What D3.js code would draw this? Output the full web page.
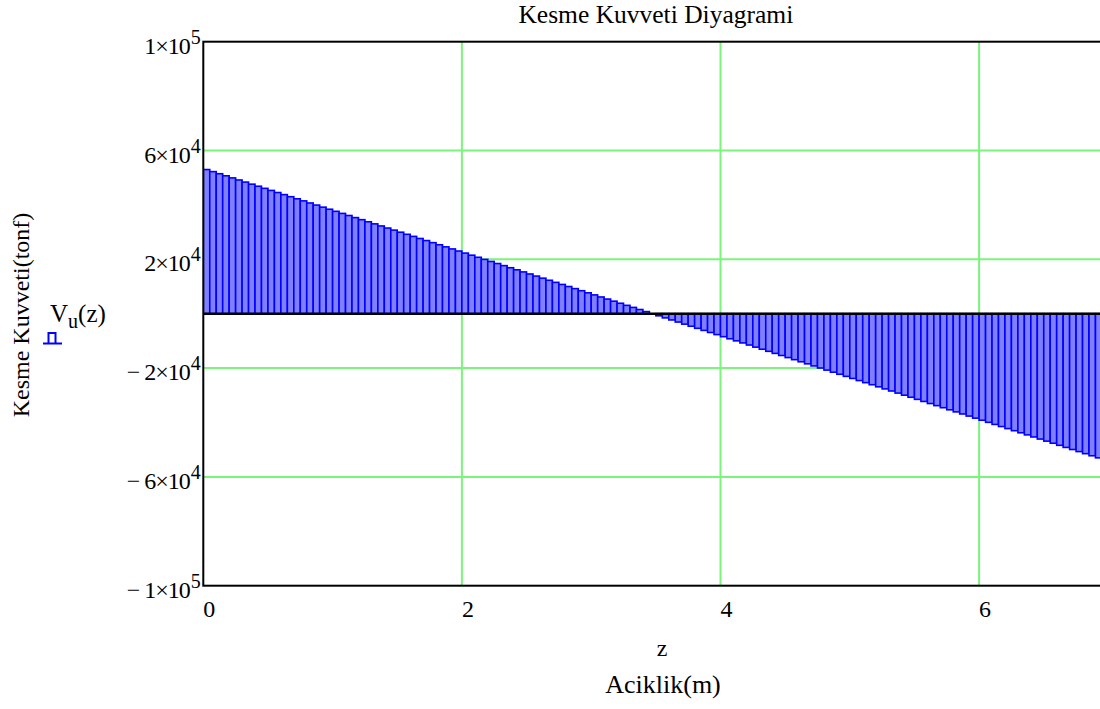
<!DOCTYPE html>
<html>
<head>
<meta charset="utf-8">
<script src="https://cdn.jsdelivr.net/npm/d3@7"></script>
<style>
  html, body { margin: 0; padding: 0; background: #fff; overflow: hidden; }
  svg { display: block; }
  text { font-family: "Liberation Serif", "Times New Roman", "DejaVu Serif", serif; fill: #000; }
</style>
</head>
<body>
<script>
// ---- Data ----
const titleText = "Kesme Kuvveti Diyagrami";
const yTitle = "Kesme Kuvveti(tonf)";
const xVarLabel = "z";
const xTitle = "Aciklik(m)";
const barStep = 0.05;
const zValues = [
  0.00,0.05,0.10,0.15,0.20,0.25,0.30,0.35,0.40,0.45,0.50,0.55,0.60,0.65,0.70,0.75,0.80,0.85,0.90,0.95,
  1.00,1.05,1.10,1.15,1.20,1.25,1.30,1.35,1.40,1.45,1.50,1.55,1.60,1.65,1.70,1.75,1.80,1.85,1.90,1.95,
  2.00,2.05,2.10,2.15,2.20,2.25,2.30,2.35,2.40,2.45,2.50,2.55,2.60,2.65,2.70,2.75,2.80,2.85,2.90,2.95,
  3.00,3.05,3.10,3.15,3.20,3.25,3.30,3.35,3.40,3.45,3.50,3.55,3.60,3.65,3.70,3.75,3.80,3.85,3.90,3.95,
  4.00,4.05,4.10,4.15,4.20,4.25,4.30,4.35,4.40,4.45,4.50,4.55,4.60,4.65,4.70,4.75,4.80,4.85,4.90,4.95,
  5.00,5.05,5.10,5.15,5.20,5.25,5.30,5.35,5.40,5.45,5.50,5.55,5.60,5.65,5.70,5.75,5.80,5.85,5.90,5.95,
  6.00,6.05,6.10,6.15,6.20,6.25,6.30,6.35,6.40,6.45,6.50,6.55,6.60,6.65,6.70,6.75,6.80,6.85,6.90
];
const vuValues = [
  53000,52230,51460,50700,49930,49160,48390,47620,46860,46090,45320,44550,43780,43010,42250,41480,40710,39940,39170,38410,
  37640,36870,36100,35330,34570,33800,33030,32260,31490,30730,29960,29190,28420,27650,26890,26120,25350,24580,23810,23040,
  22280,21510,20740,19970,19200,18440,17670,16900,16130,15360,14600,13830,13060,12290,11520,10750,9990,9220,8450,7680,
  6910,6150,5380,4610,3840,3070,2310,1540,770,0,-770,-1540,-2300,-3070,-3840,-4610,-5380,-6140,-6910,-7680,
  -8450,-9220,-9980,-10750,-11520,-12290,-13060,-13830,-14590,-15360,-16130,-16900,-17670,-18430,-19200,-19970,-20740,-21510,-22270,-23040,
  -23810,-24580,-25350,-26110,-26880,-27650,-28420,-29190,-29960,-30720,-31490,-32260,-33030,-33800,-34560,-35330,-36100,-36870,-37640,-38400,
  -39170,-39940,-40710,-41480,-42240,-43010,-43780,-44550,-45320,-46090,-46850,-47620,-48390,-49160,-49930,-50690,-51460,-52230,-53000
];
const xDomain = [0, 7];
const yDomain = [-100000, 100000];
const xTicks = [0, 2, 4, 6];
const xTickLabels = ["0", "2", "4", "6"];
const yTicks = [100000, 60000, 20000, -20000, -60000, -100000];
const yTickMantissa = ["1\u00d710", "6\u00d710", "2\u00d710", "\u2212 2\u00d710", "\u2212 6\u00d710", "\u2212 1\u00d710"];
const yTickExponent = ["5", "4", "4", "4", "4", "5"];

// ---- Layout ----
const W = 1100, H = 709;
const plot = { left: 203.3, right: 1108.4, top: 41.7, bottom: 585.7 };
const FONT = "'Liberation Serif', 'Times New Roman', 'DejaVu Serif', serif";

const svg = d3.select("body").append("svg").attr("width", W).attr("height", H)
  .attr("font-family", FONT);

const x = d3.scaleLinear().domain(xDomain).range([plot.left, plot.right]);
const y = d3.scaleLinear().domain(yDomain).range([plot.bottom, plot.top]);

svg.append("defs").append("clipPath").attr("id", "plotclip")
  .append("rect").attr("x", plot.left).attr("y", plot.top)
  .attr("width", plot.right - plot.left).attr("height", plot.bottom - plot.top);

const gridColor = "#7af57a";

// gridlines
const grid = svg.append("g").attr("clip-path", "url(#plotclip)");
grid.selectAll("line.gx").data(xTicks.filter(d => d > xDomain[0])).join("line")
  .attr("x1", d => x(d)).attr("x2", d => x(d))
  .attr("y1", plot.top).attr("y2", plot.bottom)
  .attr("stroke", gridColor).attr("stroke-width", 2);
grid.selectAll("line.gy").data(yTicks.filter(d => d > yDomain[0] && d < yDomain[1])).join("line")
  .attr("x1", plot.left).attr("x2", plot.right)
  .attr("y1", d => y(d)).attr("y2", d => y(d))
  .attr("stroke", gridColor).attr("stroke-width", 2);

// bars
const bars = svg.append("g").attr("clip-path", "url(#plotclip)");
const barData = zValues.map((z, i) => ({ z, v: vuValues[i] }));
bars.selectAll("rect").data(barData).join("rect")
  .attr("x", d => x(d.z))
  .attr("width", d => x(d.z + barStep) - x(d.z))
  .attr("y", d => Math.min(y(d.v), y(0)))
  .attr("height", d => Math.abs(y(d.v) - y(0)))
  .attr("fill", "#8080ff")
  .attr("stroke", "#0000ff")
  .attr("stroke-width", 1.6);

// zero line
svg.append("line")
  .attr("x1", plot.left).attr("x2", plot.right)
  .attr("y1", y(0)).attr("y2", y(0))
  .attr("stroke", "#000").attr("stroke-width", 2.5);

// frame
svg.append("rect")
  .attr("x", plot.left).attr("y", plot.top)
  .attr("width", plot.right - plot.left).attr("height", plot.bottom - plot.top)
  .attr("fill", "none").attr("stroke", "#000").attr("stroke-width", 2);

// y tick labels
const yl = svg.append("g");
yTicks.forEach((t, i) => {
  const txt = yl.append("text")
    .attr("x", plot.left - 2.5)
    .attr("y", y(t) + 12)
    .attr("text-anchor", "end")
    .attr("font-size", 24);
  txt.append("tspan").attr("letter-spacing", -1).text(yTickMantissa[i]);
  txt.append("tspan").attr("dy", -10).attr("dx", 1).attr("font-size", 20).text(yTickExponent[i]);
});

// x tick labels
svg.append("g").selectAll("text").data(xTicks).join("text")
  .attr("x", d => x(d))
  .attr("y", 617)
  .attr("text-anchor", "start")
  .attr("font-size", 24)
  .text((d, i) => xTickLabels[i]);

// title
svg.append("text")
  .attr("x", (plot.left + plot.right) / 2)
  .attr("y", 23)
  .attr("text-anchor", "middle")
  .attr("font-size", 25.5)
  .text(titleText);

// x labels
svg.append("text")
  .attr("x", 662).attr("y", 656)
  .attr("text-anchor", "middle")
  .attr("font-size", 24)
  .text(xVarLabel);
svg.append("text")
  .attr("x", 663).attr("y", 693)
  .attr("text-anchor", "middle")
  .attr("font-size", 26)
  .text(xTitle);

// y title
svg.append("text")
  .attr("transform", "translate(29,315) rotate(-90)")
  .attr("text-anchor", "middle")
  .attr("font-size", 24)
  .text(yTitle);

// legend
const leg = svg.append("text").attr("x", 50).attr("y", 322).attr("font-size", 25);
leg.append("tspan").text("V");
leg.append("tspan").attr("dy", 6).attr("font-size", 20).text("u");
leg.append("tspan").attr("dy", -6).text("(z)");

svg.append("path")
  .attr("d", "M43,343.5 H62 M48.5,343.5 V333 H55.5 V343.5")
  .attr("fill", "none").attr("stroke", "#0000ff").attr("stroke-width", 2);
</script>
</body>
</html>
